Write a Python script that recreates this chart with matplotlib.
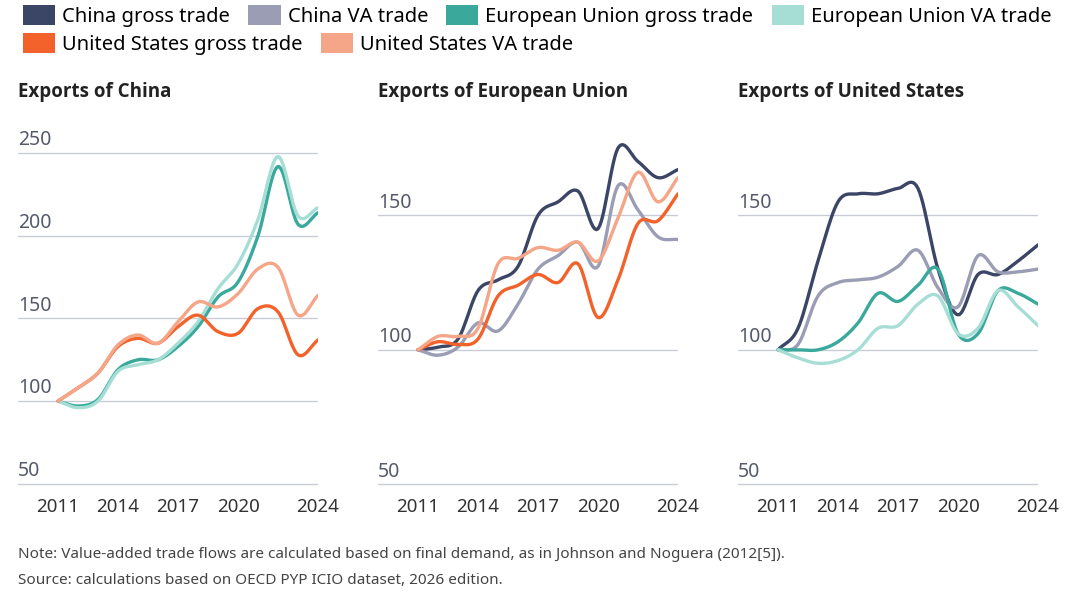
import numpy as np
import matplotlib.pyplot as plt
from matplotlib.patches import Patch

plt.rcParams['font.family'] = ['Noto Sans', 'DejaVu Sans']

years = np.arange(2011, 2025)

# Exports of China
chn_eu_gross = [100, 97, 101, 119, 125, 125, 133, 145, 163, 172, 200, 242, 207, 214]
chn_eu_va = [100, 96, 100, 118, 122, 125, 135, 148, 168, 183, 210, 248, 212, 217]
chn_us_gross = [100, 108, 117, 133, 138, 135, 145, 152, 142, 141, 156, 154, 128, 137]
chn_us_va = [100, 108, 117, 134, 140, 135, 148, 160, 157, 165, 180, 181, 152, 164]

# Exports of European Union
eu_cn_gross = [100, 101, 104, 122, 126, 131, 150, 155, 159, 145, 175, 170, 164, 167]
eu_cn_va = [100, 98, 101, 110, 107, 117, 130, 135, 140, 131, 161, 152, 142, 141]
eu_us_gross = [100, 103, 102, 104, 120, 124, 128, 125, 132, 112, 126, 147, 148, 158]
eu_us_va = [100, 105, 105, 108, 132, 134, 138, 137, 140, 133, 149, 166, 155, 164]

# Exports of United States
us_cn_gross = [100, 108, 133, 155, 158, 158, 160, 160, 130, 113, 128, 128, 133, 139]
us_cn_va = [100, 102, 120, 125, 126, 127, 131, 137, 123, 116, 135, 129, 129, 130]
us_eu_gross = [100, 100, 100, 103, 110, 121, 118, 124, 130, 106, 106, 122, 121, 117]
us_eu_va = [100, 97, 95, 96, 100, 108, 109, 117, 120, 106, 108, 122, 116, 109]

labels = ['China gross trade', 'China VA trade', 'European Union gross trade',
          'European Union VA trade', 'United States gross trade', 'United States VA trade']
colors = ['#3b4566', '#9a9db3', '#3aa99c', '#a6ded6', '#f2622a', '#f5a688']


def smooth(x, y, n=12):
    # Catmull-Rom curve through the points, only for drawing
    x = np.asarray(x, float)
    y = np.asarray(y, float)
    px = np.concatenate([[2 * x[0] - x[1]], x, [2 * x[-1] - x[-2]]])
    py = np.concatenate([[2 * y[0] - y[1]], y, [2 * y[-1] - y[-2]]])
    xs, ys = [], []
    t = np.linspace(0, 1, n, endpoint=False)
    for i in range(1, len(px) - 2):
        for p, out in ((px, xs), (py, ys)):
            p0, p1, p2, p3 = p[i - 1], p[i], p[i + 1], p[i + 2]
            out.extend(0.5 * (2 * p1 + (-p0 + p2) * t + (2 * p0 - 5 * p1 + 4 * p2 - p3) * t ** 2
                              + (-p0 + 3 * p1 - 3 * p2 + p3) * t ** 3))
    xs.append(x[-1])
    ys.append(y[-1])
    return xs, ys


panels = [
    ('Exports of China', [(chn_eu_gross, 2), (chn_eu_va, 3), (chn_us_gross, 4), (chn_us_va, 5)],
     (48, 258), [50, 100, 150, 200, 250]),
    ('Exports of European Union', [(eu_cn_gross, 0), (eu_cn_va, 1), (eu_us_gross, 4), (eu_us_va, 5)],
     (49, 178), [50, 100, 150]),
    ('Exports of United States', [(us_cn_gross, 0), (us_cn_va, 1), (us_eu_gross, 2), (us_eu_va, 3)],
     (49, 178), [50, 100, 150]),
]

fig = plt.figure(figsize=(10.82, 5.99), dpi=100)
lefts = [18 / 1082, 378 / 1082, 738 / 1082]
for left, (title, series, ylim, yticks) in zip(lefts, panels):
    ax = fig.add_axes([left, 1 - 487 / 599, 300 / 1082, 347 / 599])
    for yt in yticks:
        ax.axhline(yt, color='#c9ccd6', lw=1, zorder=0)
        ax.text(2009, yt + (ylim[1] - ylim[0]) * 0.008, str(yt), fontsize=14,
                color='#555a6a', va='bottom', ha='left')
    for vals, ci in series:
        xs, ys = smooth(years, vals)
        ax.plot(xs, ys, color=colors[ci], lw=2.4, solid_capstyle='round')
    ax.set_xlim(2009, 2024)
    ax.set_ylim(*ylim)
    ax.set_xticks([2011, 2014, 2017, 2020, 2024])
    ax.tick_params(axis='x', length=0, labelsize=13.5, labelcolor='#333', pad=8)
    ax.set_yticks([])
    for s in ax.spines.values():
        s.set_visible(False)
    fig.text(left, 1 - 92 / 599, title, fontsize=13.5, fontweight='bold', color='#222',
             va='center', family=['Open Sans', 'DejaVu Sans'])

handles = [Patch(facecolor=c, edgecolor='none') for c in colors]
kw = dict(loc='center left', frameon=False, fontsize=14.5, handlelength=1.6, handleheight=1.1,
          handletextpad=0.35, columnspacing=0.9, borderpad=0)
fig.legend(handles[:4], labels[:4], bbox_to_anchor=(0.012, 1 - 16 / 599), ncol=4, **kw)
fig.legend(handles[4:], labels[4:], bbox_to_anchor=(0.012, 1 - 44 / 599), ncol=2, **kw)

fig.text(18 / 1082, 1 - 554 / 599,
         'Note: Value-added trade flows are calculated based on final demand, as in Johnson and Noguera (2012[5]).',
         fontsize=11, color='#444', va='center')
fig.text(18 / 1082, 1 - 580 / 599, 'Source: calculations based on OECD PYP ICIO dataset, 2026 edition.',
         fontsize=11, color='#444', va='center')

fig.savefig('out.png', dpi=100)
